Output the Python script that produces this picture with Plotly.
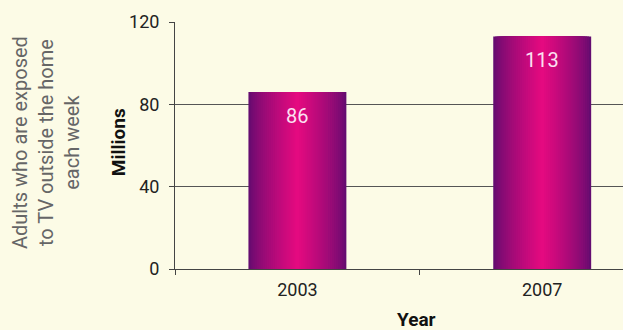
import plotly.graph_objects as go

years = ["2003", "2007"]
adults_millions = [86, 113]
y_ticks = [0, 40, 80, 120]

FONT = "Roboto, sans-serif"
BG = "#fcfbe6"
edge = (100, 12, 112)
center = (228, 10, 128)

fig = go.Figure()
N = 24
for i in range(N):
    f = (i / (N - 1)) ** 0.75
    c = tuple(int(edge[k] + (center[k] - edge[k]) * f) for k in range(3))
    w = 0.4 * (1 - i / N)
    fig.add_trace(go.Bar(
        x=years, y=adults_millions, width=w,
        marker=dict(color="rgb(%d,%d,%d)" % c, line=dict(width=0)),
        hoverinfo="skip", showlegend=False,
    ))

for idx, v in enumerate(adults_millions):
    fig.add_annotation(x=idx, y=v, text=str(v), showarrow=False, yanchor="top",
                       yshift=-10, font=dict(family=FONT, size=20, color="#fbe0f2"))

fig.add_annotation(xref="paper", yref="paper", x=-0.288, y=0.514, textangle=-90,
                   text="Adults who are exposed<br>to TV outside the home<br>each week",
                   showarrow=False, xanchor="center", yanchor="middle",
                   font=dict(family=FONT, size=20, color="#666666"))
fig.add_annotation(xref="paper", yref="paper", x=-0.127, y=0.514, textangle=-90,
                   text="<b>Millions</b>", showarrow=False, xanchor="center", yanchor="middle",
                   font=dict(family=FONT, size=19, color="#111111"))
fig.add_annotation(xref="paper", yref="paper", x=0.538, y=-0.206,
                   text="<b>Year</b>", showarrow=False, xanchor="center", yanchor="middle",
                   font=dict(family=FONT, size=19, color="#111111"))

fig.update_layout(
    width=623, height=330,
    margin=dict(l=175, r=0, t=22, b=61, autoexpand=False),
    paper_bgcolor=BG, plot_bgcolor=BG,
    barmode="overlay",
    font=dict(family=FONT, size=18, color="#222222"),
    xaxis=dict(type="category", range=[-0.5, 1.33], tickson="boundaries",
               ticks="outside", ticklen=5, tickcolor="#444", showgrid=False,
               showline=True, linecolor="#444", linewidth=1, automargin=False,
               ticklabelstandoff=4),
    yaxis=dict(range=[0, 120], tickvals=y_ticks, ticks="outside", ticklen=5,
               tickcolor="#444", showgrid=True, gridcolor="#555", gridwidth=1,
               showline=True, linecolor="#444", linewidth=1, zeroline=False,
               automargin=False, ticklabelstandoff=6),
)

fig.write_html("out.html", config={"displayModeBar": False},
               post_script="document.body.style.margin='0';document.body.style.background='%s';" % BG)
